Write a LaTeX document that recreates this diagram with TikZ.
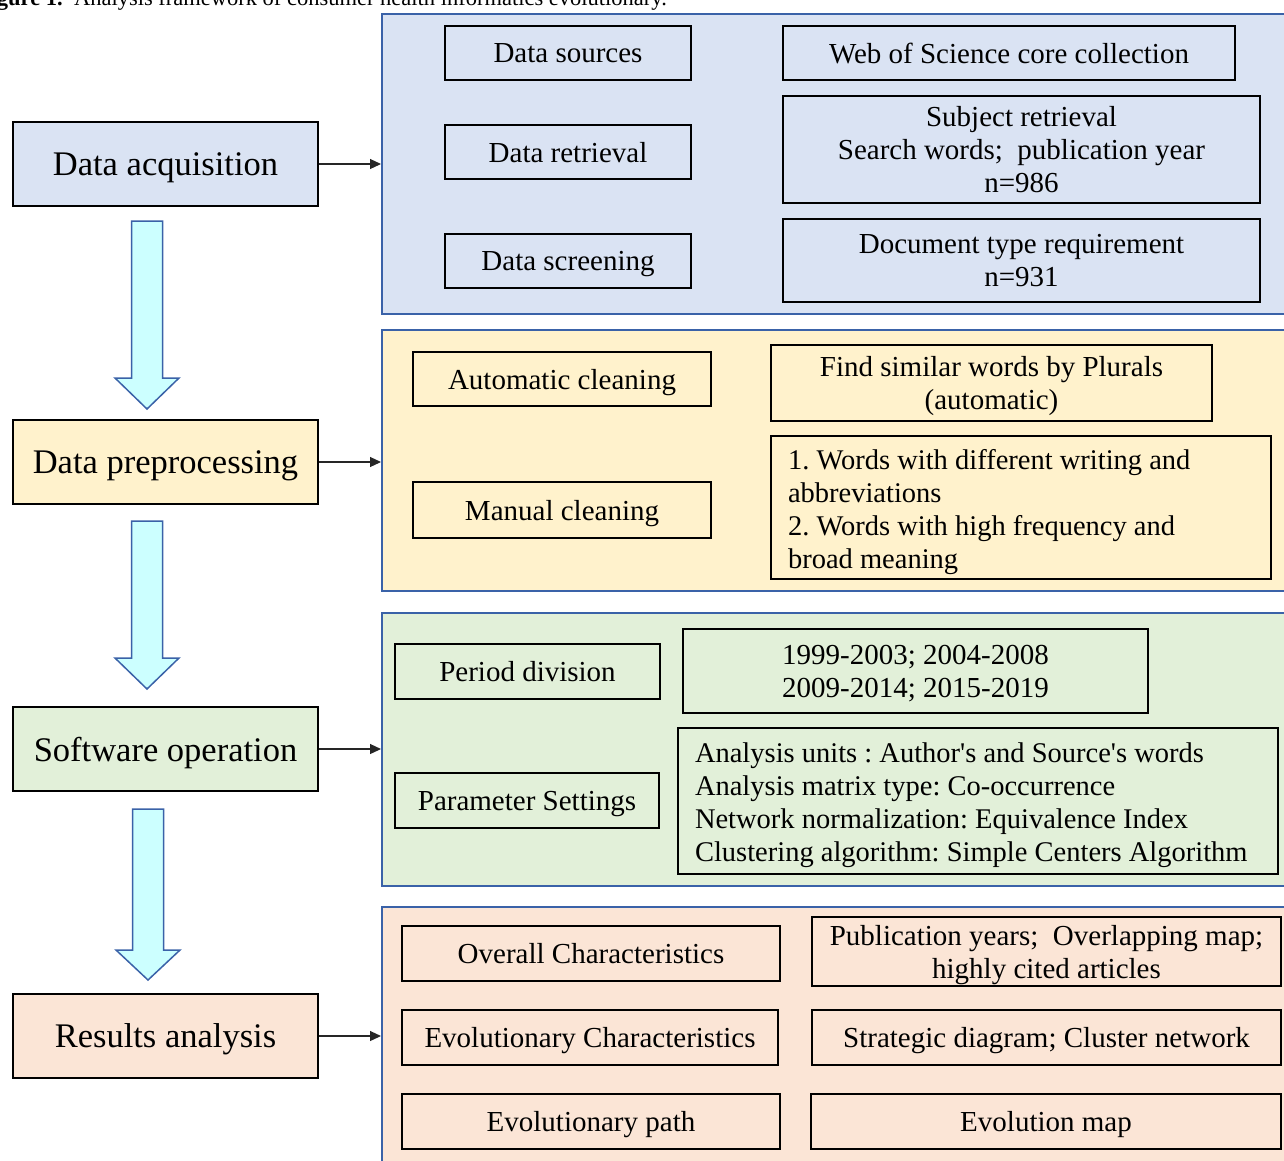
\documentclass[tikz,border=0pt]{standalone}
\usepackage{fontspec}
\setmainfont{Liberation Serif}
\usetikzlibrary{arrows.meta}
\definecolor{secblue}{HTML}{DAE3F3}
\definecolor{secyellow}{HTML}{FFF2CC}
\definecolor{secgreen}{HTML}{E2F0D9}
\definecolor{secorange}{HTML}{FBE5D6}
\definecolor{secborder}{HTML}{3A62A8}
\definecolor{arrowfill}{HTML}{CCFFFF}
\newcommand{\blkarrow}[4]{% centre x, top, head start, tip
  \draw[blockarrow] (#1-15.5,#2) -- (#1+15.5,#2) -- (#1+15.5,#3) -- (#1+32,#3) -- (#1,#4) -- (#1-32,#3) -- (#1-15.5,#3) -- cycle;}
\begin{document}
\frenchspacing
\hyphenpenalty=10000
\begin{tikzpicture}[x=1pt,y=-1pt,
  section/.style={draw=secborder, line width=2pt, inner sep=0pt},
  leftbox/.style={draw=black, line width=2.5pt, inner sep=0pt, minimum width=305pt, minimum height=84pt, text depth=0pt, font=\fontsize{34.5}{40}\selectfont},
  rbox/.style={draw=black, line width=2pt, inner sep=0pt, align=center, text depth=0pt, font=\fontsize{29}{33}\selectfont},
  lbox/.style={draw=black, line width=2pt, inner xsep=17pt, inner ysep=0pt, align=flush left, text depth=97pt, font=\fontsize{28.5}{33}\selectfont},
  conn/.style={draw=black!85, line width=1.2pt, -{Triangle[length=11pt,width=10pt]}},
  blockarrow/.style={draw=secborder, line width=1.5pt, fill=arrowfill, line join=miter}
]
\useasboundingbox (0,0) rectangle (1284,1160);
\clip (0,0) rectangle (1284,1160);

% caption (cut off at top, as in the reference)
\node[anchor=base east, inner sep=0pt, font=\fontsize{22.5}{25}\selectfont] (cap) at (667,5) {\textbf{Figure 1.}\ \ Analysis framework of consumer health informatics evolutionary.};

% sections
\node[section, fill=secblue, minimum width=930pt, minimum height=300pt] (s1) at (847,164) {};
\node[section, fill=secyellow, minimum width=930pt, minimum height=261pt] (s2) at (847,460.5) {};
\node[section, fill=secgreen, minimum width=930pt, minimum height=273pt] (s3) at (847,749.5) {};
\node[section, fill=secorange, minimum width=930pt, minimum height=258pt] (s4) at (847,1036) {};

% left stage boxes
\node[leftbox, fill=secblue] (da) at (165.5,164) {Data acquisition};
\node[leftbox, fill=secyellow] (dp) at (165.5,462) {Data preprocessing};
\node[leftbox, fill=secgreen] (so) at (165.5,749) {Software operation};
\node[leftbox, fill=secorange] (ra) at (165.5,1036) {Results analysis};

% block arrows
\blkarrow{147}{221}{378}{409}
\blkarrow{147}{521}{658}{689}
\blkarrow{148}{809}{950}{980}

% connectors
\draw[conn] (da.east) -- (s1.west |- da.east);
\draw[conn] (dp.east) -- (s2.west |- dp.east);
\draw[conn] (so.east) -- (s3.west |- so.east);
\draw[conn] (ra.east) -- (s4.west |- ra.east);

% section 1
\node[rbox, minimum width=246pt, minimum height=54pt] (ds) at (568,53) {Data sources};
\node[rbox, minimum width=452pt, minimum height=54pt] (wos) at (1009,53) {Web of Science core collection};
\node[rbox, minimum width=246pt, minimum height=54pt] (dr) at (568,152) {Data retrieval};
\node[rbox, minimum width=477pt, minimum height=107pt] (sr) at (1021.5,149.5) {Subject retrieval\\Search words;\ \ publication year\\n=986};
\node[rbox, minimum width=246pt, minimum height=54pt] (dsc) at (568,261) {Data screening};
\node[rbox, minimum width=477pt, minimum height=83pt] (dt) at (1021.5,260.5) {Document type requirement\\n=931};

% section 2
\node[rbox, minimum width=298pt, minimum height=54pt] (ac) at (562,379) {Automatic cleaning};
\node[rbox, minimum width=298pt, minimum height=56pt] (mc) at (562,510) {Manual cleaning};
\node[rbox, minimum width=441pt, minimum height=76pt] (fs) at (991.5,383) {Find similar words by Plurals\\(automatic)};
\node[lbox, text width=466pt, minimum height=143pt] (ww) at (1021,507.5) {1. Words with different writing and\\abbreviations\\2. Words with high frequency and\\broad meaning};

% section 3
\node[rbox, minimum width=265pt, minimum height=55pt] (pd) at (527.5,671.5) {Period division};
\node[rbox, minimum width=465pt, minimum height=84pt] (yr) at (915.5,671) {1999-2003; 2004-2008\\2009-2014; 2015-2019};
\node[rbox, minimum width=264pt, minimum height=55pt] (ps) at (527,800.5) {Parameter Settings};
\node[lbox, text width=566pt, minimum height=146pt] (an) at (978,801) {Analysis units : Author\textquotesingle s and Source\textquotesingle s words\\Analysis matrix type: Co-occurrence\\Network normalization: Equivalence Index\\Clustering algorithm: Simple Centers Algorithm};

% section 4
\node[rbox, minimum width=378pt, minimum height=55pt] (oc) at (591,953.5) {Overall Characteristics};
\node[rbox, minimum width=469pt, minimum height=69pt] (py) at (1046.5,951.5) {Publication years;\ \ Overlapping map;\\highly cited articles};
\node[rbox, minimum width=376pt, minimum height=55pt] (ec) at (590,1037.5) {Evolutionary Characteristics};
\node[rbox, minimum width=469pt, minimum height=55pt] (sd) at (1046.5,1037.5) {Strategic diagram; Cluster network};
\node[rbox, minimum width=378pt, minimum height=55pt] (ep) at (591,1121.5) {Evolutionary path};
\node[rbox, minimum width=470pt, minimum height=55pt] (em) at (1046,1121.5) {Evolution map};
\end{tikzpicture}
\end{document}
